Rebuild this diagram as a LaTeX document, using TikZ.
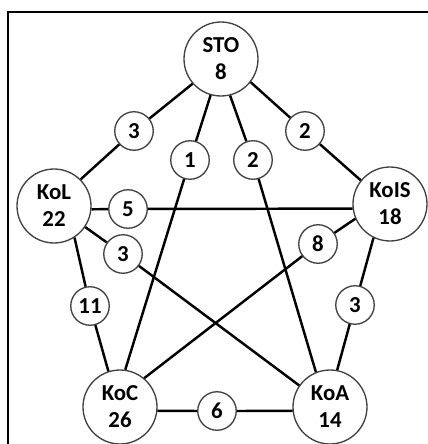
\documentclass[tikz,border=0pt]{standalone}
\usepackage{fontspec}
\setmainfont{Carlito}
\begin{document}
\begin{tikzpicture}[x=0.02cm, y=-0.02cm,
	town/.style={circle, draw=black!75, line width=0.75pt, fill=white, minimum size=1.48cm, inner sep=0pt, align=center, font=\fontsize{13}{15.3}\selectfont\bfseries},
	cost/.style={circle, draw=black!75, line width=0.75pt, fill=white, minimum size=0.77cm, inner sep=0pt, font=\fontsize{13}{15.3}\selectfont\bfseries},
	link/.style={line width=1.4pt}]
	\useasboundingbox (0,0) rectangle (428,444);
	% frame
	\draw[line width=1.2pt] (8,444) -- (8,12) -- (428,12);
	
	% towns
	\node[town] (STO) at (221,59) {STO\\8};
	\node[town] (KoL) at (54,206) {KoL\\22};
	\node[town] (KoIS) at (390,204) {KoIS\\18};
	\node[town] (KoC) at (120,407) {KoC\\26};
	\node[town] (KoA) at (330,407) {KoA\\14};
	
	% costs
	\node[cost] (c1) at (134,131) {3};
	\node[cost] (c2) at (305,131) {2};
	\node[cost] (c3) at (190,160) {1};
	\node[cost] (c4) at (253,160) {2};
	\node[cost] (c5) at (128,209) {5};
	\node[cost] (c6) at (123,254) {3};
	\node[cost] (c7) at (318,244) {8};
	\node[cost] (c8) at (90,306) {11};
	\node[cost] (c9) at (355,305) {3};
	\node[cost] (c10) at (217,411) {6};
	
	% links
	\draw[link] (STO.221) -- (c1) -- (KoL.45);
	\draw[link] (STO.322) -- (c2) -- (KoIS.141);
	\draw[link] (STO.254) -- (c3) -- (KoC.82);
	\draw[link] (STO.284) -- (c4) -- (KoA.112);
	\draw[link] (KoL.355) -- (c5) -- (KoIS.187);
	\draw[link] (KoL.326) -- (c6) -- (KoA.145);
	\draw[link] (KoIS.203) -- (c7) -- (KoC.50);
	\draw[link] (KoL.303) -- (c8) -- (KoC.108);
	\draw[link] (KoIS.244) -- (c9) -- (KoA.79);
	\draw[link] (KoC.354) -- (c10) -- (KoA.186);
	
\end{tikzpicture}
\end{document}
